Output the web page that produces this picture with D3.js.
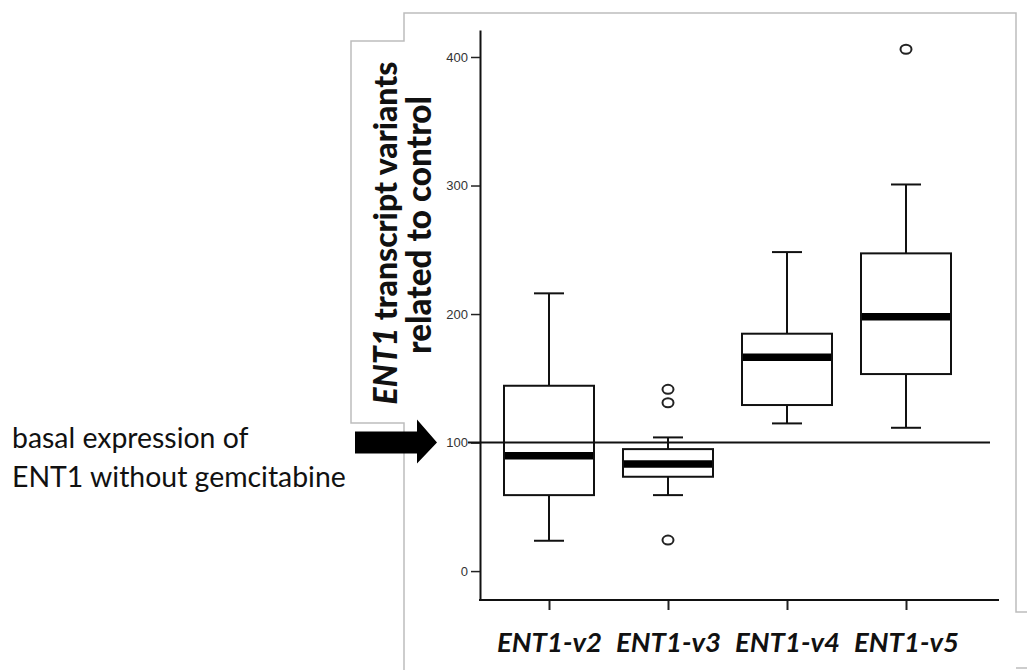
<!DOCTYPE html>
<html>
<head>
<meta charset="utf-8">
<script src="https://cdn.jsdelivr.net/npm/d3@7"></script>
<style>
  html, body { margin: 0; padding: 0; background: #ffffff; }
  svg { display: block; }
</style>
</head>
<body>
<svg id="chart" width="1027" height="670"></svg>
<script>
// ---- data ----
const categories   = ["ENT1-v2", "ENT1-v3", "ENT1-v4", "ENT1-v5"];
const whiskerLow   = [23.6, 59.1, 114.9, 111.5];
const q1           = [59.1, 73.4, 129.2, 153.3];
const medians      = [89.7, 83.3, 166.3, 197.9];
const q3           = [144.2, 94.9, 184.7, 247.2];
const whiskerHigh  = [216.1, 104.0, 248.2, 300.8];
const outliers     = [[], [141.4, 131.0, 24.1], [], [406.0]];
const yTicks       = [0, 100, 200, 300, 400];
const basalValue   = 100;
const yTitleLine1  = ["ENT1", " transcript variants"];
const yTitleLine2  = "related to control";
const noteLines    = ["basal expression of", "ENT1 without gemcitabine"];

// ---- layout ----
const svg = d3.select("#chart");
svg.append("rect").attr("width", 1027).attr("height", 670).attr("fill", "#fff");

const axisX0 = 480, axisX1 = 999, axisTop = 30, axisBottom = 600;

const y = d3.scaleLinear().domain([-22.5, 421]).range([axisBottom, axisTop]);
const x = d3.scalePoint().domain(categories).range([549, 906]);
const boxW = 90, capW = 30;

// gray frame (panel border)
const frame = d3.path();
frame.moveTo(404, 670); frame.lineTo(404, 423); frame.lineTo(351, 423);
frame.lineTo(351, 41); frame.lineTo(404, 41); frame.lineTo(404, 13);
frame.lineTo(1016, 13); frame.lineTo(1016, 612); frame.lineTo(1027, 612);
svg.append("path").attr("d", frame.toString()).attr("fill", "none")
  .attr("stroke", "#bdbdbd").attr("stroke-width", 1.5);
svg.append("line").attr("x1", 1016).attr("x2", 1027).attr("y1", 668).attr("y2", 668)
  .attr("stroke", "#bdbdbd").attr("stroke-width", 1.5);

// y axis
const yAxis = svg.append("g").attr("transform", `translate(${axisX0},0)`)
  .call(d3.axisLeft(y).tickValues(yTicks).tickSize(9).tickSizeOuter(0).tickPadding(3));
yAxis.select(".domain").attr("stroke", "#111").attr("stroke-width", 2);
yAxis.selectAll(".tick line").attr("stroke", "#222").attr("stroke-width", 1.5);
yAxis.selectAll(".tick text").attr("fill", "#333")
  .style("font-family", "'Liberation Sans', Arial, sans-serif").style("font-size", "13px");

// x axis
const xAxis = svg.append("g").attr("transform", `translate(0,${axisBottom})`)
  .call(d3.axisBottom(x).tickSize(10).tickSizeOuter(0).tickPadding(18));
xAxis.select(".domain").remove();
xAxis.append("line").attr("x1", axisX0 - 1).attr("x2", axisX1).attr("y1", 0).attr("y2", 0)
  .attr("stroke", "#111").attr("stroke-width", 2);
xAxis.selectAll(".tick line").attr("stroke", "#222").attr("stroke-width", 2);
xAxis.selectAll(".tick text").attr("fill", "#111").attr("dy", 0).attr("y", 52)
  .style("font-family", "Lato, 'Liberation Sans', sans-serif")
  .style("font-weight", "bold").style("font-style", "italic").style("font-size", "25px");
xAxis.selectAll(".tick text").each(function () {
  const t = d3.select(this);
  const w = this.getComputedTextLength();
  t.style("font-size", (25 * 105 / w) + "px");
});

// boxes
const boxes = svg.append("g").selectAll("g.box").data(categories).join("g").attr("class", "box");
boxes.append("line")
  .attr("x1", d => x(d)).attr("x2", d => x(d))
  .attr("y1", (d, i) => y(whiskerHigh[i])).attr("y2", (d, i) => y(q3[i]))
  .attr("stroke", "#111").attr("stroke-width", 2);
boxes.append("line")
  .attr("x1", d => x(d)).attr("x2", d => x(d))
  .attr("y1", (d, i) => y(q1[i])).attr("y2", (d, i) => y(whiskerLow[i]))
  .attr("stroke", "#111").attr("stroke-width", 2);
boxes.append("line")
  .attr("x1", d => x(d) - capW / 2).attr("x2", d => x(d) + capW / 2)
  .attr("y1", (d, i) => y(whiskerHigh[i])).attr("y2", (d, i) => y(whiskerHigh[i]))
  .attr("stroke", "#111").attr("stroke-width", 2);
boxes.append("line")
  .attr("x1", d => x(d) - capW / 2).attr("x2", d => x(d) + capW / 2)
  .attr("y1", (d, i) => y(whiskerLow[i])).attr("y2", (d, i) => y(whiskerLow[i]))
  .attr("stroke", "#111").attr("stroke-width", 2);
boxes.append("rect")
  .attr("x", d => x(d) - boxW / 2).attr("width", boxW)
  .attr("y", (d, i) => y(q3[i])).attr("height", (d, i) => y(q1[i]) - y(q3[i]))
  .attr("fill", "#fff").attr("stroke", "#111").attr("stroke-width", 2);

// basal reference line (drawn over boxes)
svg.append("line")
  .attr("x1", axisX0 - 12).attr("x2", 990)
  .attr("y1", y(basalValue)).attr("y2", y(basalValue))
  .attr("stroke", "#111").attr("stroke-width", 2);

// medians
boxes.append("line")
  .attr("x1", d => x(d) - boxW / 2 + 1).attr("x2", d => x(d) + boxW / 2 - 1)
  .attr("y1", (d, i) => y(medians[i])).attr("y2", (d, i) => y(medians[i]))
  .attr("stroke", "#000").attr("stroke-width", 7.5);

// outliers
const outData = [];
categories.forEach((c, i) => outliers[i].forEach(v => outData.push({ c, v })));
svg.append("g").selectAll("ellipse").data(outData).join("ellipse")
  .attr("cx", d => x(d.c)).attr("cy", d => y(d.v))
  .attr("rx", 5.5).attr("ry", 4.5)
  .attr("fill", "none").attr("stroke", "#222").attr("stroke-width", 2);

function fit(sel, fs, target) {
  const w = sel.node().getComputedTextLength();
  sel.style("font-size", (fs * target / w) + "px");
}

// y title (rotated)
const t1 = svg.append("text")
  .attr("transform", `translate(397,233) rotate(-90)`)
  .attr("text-anchor", "middle")
  .style("font-family", "Lato, 'Liberation Sans', sans-serif")
  .style("font-weight", "900").style("font-size", "26px").attr("fill", "#111");
t1.append("tspan").style("font-style", "italic").text(yTitleLine1[0]);
t1.append("tspan").text(yTitleLine1[1]);
const t2 = svg.append("text")
  .attr("transform", `translate(431,225) rotate(-90)`)
  .attr("text-anchor", "middle")
  .style("font-family", "Lato, 'Liberation Sans', sans-serif")
  .style("font-weight", "900").style("font-size", "26px").attr("fill", "#111")
  .text(yTitleLine2);
fit(t1, 26, 343);
fit(t2, 26, 258);

// annotation text
const note = svg.append("g")
  .style("font-family", "Lato, 'Liberation Sans', sans-serif")
  .style("font-size", "26px").attr("fill", "#111");
const n1 = note.append("text").attr("x", 12).attr("y", 448).text(noteLines[0]);
const n2 = note.append("text").attr("x", 12).attr("y", 487).text(noteLines[1]);
fit(n2, 26, 334);
n1.style("font-size", n2.style("font-size"));

// arrow
const ay = y(basalValue);
const arrow = d3.path();
arrow.moveTo(355, ay - 11); arrow.lineTo(417, ay - 11); arrow.lineTo(417, ay - 23);
arrow.lineTo(437, ay); arrow.lineTo(417, ay + 21); arrow.lineTo(417, ay + 11);
arrow.lineTo(355, ay + 11); arrow.closePath();
svg.append("path").attr("d", arrow.toString()).attr("fill", "#000");
</script>
</body>
</html>
